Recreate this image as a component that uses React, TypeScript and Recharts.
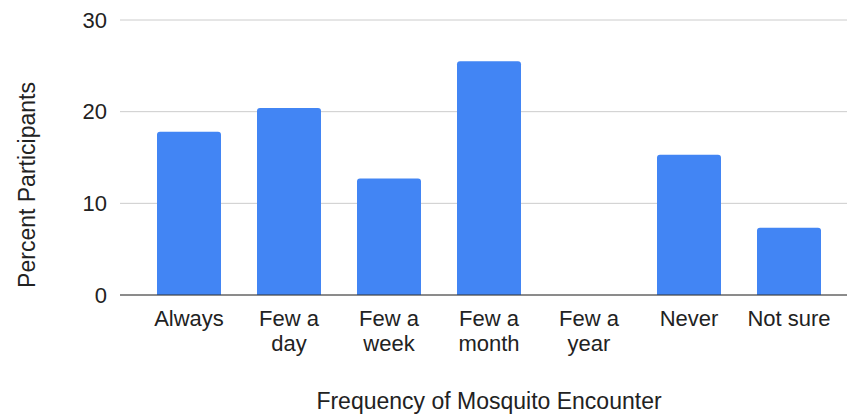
import React from 'react';
import { BarChart, Bar, XAxis, YAxis, CartesianGrid, Label } from 'recharts';

const categories = ['Always', 'Few a day', 'Few a week', 'Few a month', 'Few a year', 'Never', 'Not sure'];
const tickLines = [['Always'], ['Few a', 'day'], ['Few a', 'week'], ['Few a', 'month'], ['Few a', 'year'], ['Never'], ['Not sure']];
const percents = [17.8, 20.4, 12.7, 25.5, 0, 15.3, 7.35];
const yTicks = [0, 10, 20, 30];

const data = categories.map((name, i) => ({ name, value: percents[i], lines: tickLines[i] }));

const FONT = '"Liberation Sans", Arial, sans-serif';
const TEXT = '#222222';

const CategoryTick = ({ x, y, index }: any) => {
  const lines = tickLines[index] || [];
  return (
    <text x={x} y={y} textAnchor="middle" fill={TEXT} fontSize={22} fontFamily={FONT}>
      {lines.map((line, i) => (
        <tspan key={i} x={x} dy={i === 0 ? 23 : 24.5}>
          {line}
        </tspan>
      ))}
    </text>
  );
};

const XTitle = () => (
  <text x={489} y={409} textAnchor="middle" fill={TEXT} fontSize={23} fontFamily={FONT}>
    Frequency of Mosquito Encounter
  </text>
);

const YTitle = () => (
  <text
    x={35}
    y={185}
    transform="rotate(-90, 35, 185)"
    textAnchor="middle"
    fill={TEXT}
    fontSize={23}
    fontFamily={FONT}
  >
    Percent Participants
  </text>
);

const App: React.FC = () => {
  return (
    <div style={{ position: 'absolute', left: 0, top: 0, background: '#fff' }}>
      <BarChart width={847} height={415} data={data} margin={{ top: 20, right: 0, left: 0, bottom: 0 }}>
        <CartesianGrid vertical={false} stroke="#cccccc" />
        <XAxis
          dataKey="name"
          height={120}
          tickLine={false}
          interval={0}
          padding={{ left: 19, right: 8 }}
          stroke="#333333"
          tick={<CategoryTick />}
        >
          <Label content={<XTitle />} />
        </XAxis>
        <YAxis
          width={120}
          domain={[0, 30]}
          ticks={yTicks}
          axisLine={false}
          tickLine={false}
          tickMargin={7}
          tick={{ fill: TEXT, fontSize: 22, fontFamily: FONT }}
        >
          <Label content={<YTitle />} />
        </YAxis>
        <Bar dataKey="value" fill="#4285f4" barSize={64} radius={[3, 3, 0, 0]} isAnimationActive={false} />
      </BarChart>
    </div>
  );
};

export default App;
